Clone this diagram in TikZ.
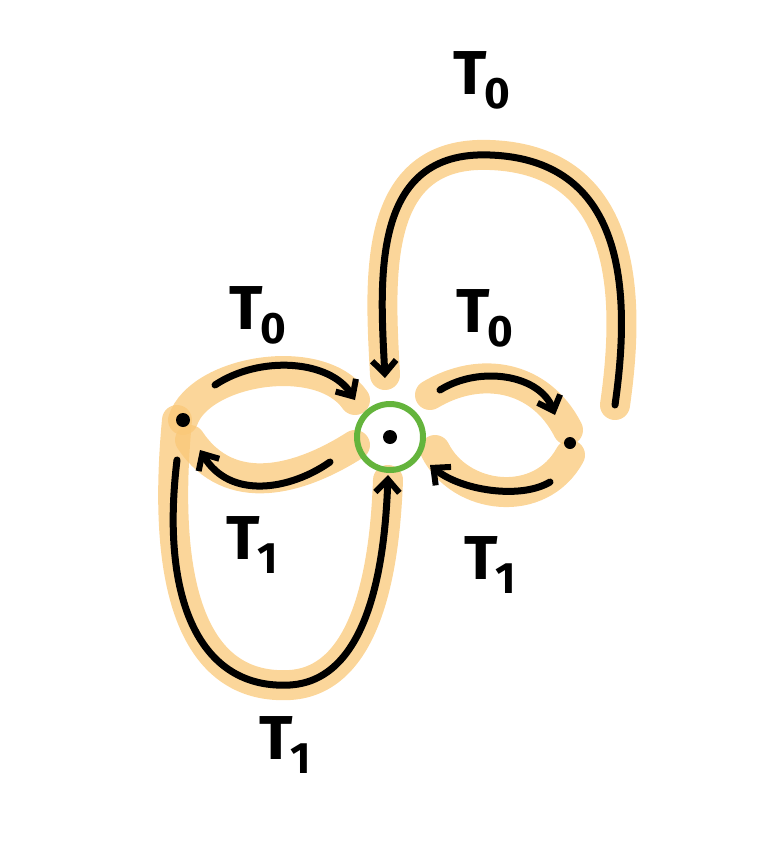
\documentclass[tikz,border=0pt]{standalone}
\usepackage{fontspec}
\setmainfont{Fira Sans}
\usetikzlibrary{arrows.meta}
\definecolor{bandc}{RGB}{250,200,120}
\newcommand{\Tsub}[1]{T\kern-2pt\raisebox{-14pt}{\fontsize{44}{46}\selectfont #1}}
\begin{document}
\begin{tikzpicture}[x=1pt,y=-1pt,
  band/.style={line width=30pt,draw=bandc,line cap=round,opacity=0.75},
  ink/.style={line width=7pt,line cap=round,-{Straight Barb[length=13pt,width=24pt,line width=6pt]}},
  lbl/.style={font=\fontsize{62}{64}\selectfont\bfseries}]
\useasboundingbox (0,0) rectangle (783,867);
\coordinate (c) at (390,437);
\coordinate (l) at (183,420);
\coordinate (r) at (570,443);
% orange bands
\draw[band] (615,405) .. controls (630,300) and (630,160) .. (490,155) .. controls (370,150) and (380,280) .. (385,375);
\draw[band] (177,420) .. controls (160,600) and (200,690) .. (290,685) .. controls (370,680) and (385,560) .. (388,480);
\draw[band] (183,420) .. controls (200,370) and (320,350) .. (355,400);
\draw[band] (355,445) .. controls (300,480) and (230,500) .. (190,440);
\draw[band] (430,395) .. controls (480,365) and (540,375) .. (568,430);
\draw[band] (570,455) .. controls (540,510) and (460,500) .. (435,450);
% ink
\draw[ink] (615,405) .. controls (630,300) and (630,160) .. (490,155) .. controls (370,150) and (380,280) .. (385,378);
\draw[ink] (177,460) .. controls (160,600) and (200,690) .. (290,685) .. controls (370,680) and (385,560) .. (388,475);
\draw[ink] (215,385) .. controls (260,355) and (330,360) .. (355,400);
\draw[ink] (330,462) .. controls (290,490) and (230,500) .. (200,450);
\draw[ink] (440,390) .. controls (480,365) and (540,375) .. (555,415);
\draw[ink] (550,482) .. controls (520,500) and (460,490) .. (430,465);
% dots
\node (cn) at (c) [circle,fill=black,inner sep=0,minimum size=14pt] {};
\node (cg) at (c) [circle,draw={rgb,255:red,100;green,180;blue,60},line width=6pt,inner sep=0,minimum size=66pt] {};
\node (ln) at (l) [circle,fill=black,inner sep=0,minimum size=14pt] {};
\node (rn) at (r) [circle,fill=black,inner sep=0,minimum size=12pt] {};
% labels
\node[lbl] (t1) at (482,80) {\Tsub{0}};
\node[lbl] (t2) at (258,315) {\Tsub{0}};
\node[lbl] (t3) at (485,318) {\Tsub{0}};
\node[lbl] (t4) at (252,545) {\Tsub{1}};
\node[lbl] (t5) at (490,565) {\Tsub{1}};
\node[lbl] (t6) at (285,745) {\Tsub{1}};
\end{tikzpicture}
\end{document}
